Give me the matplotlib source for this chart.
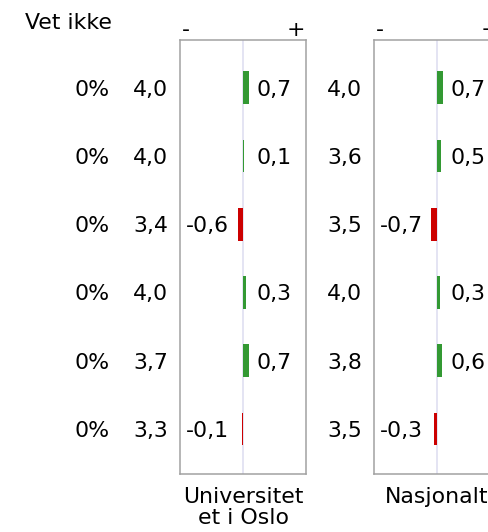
import matplotlib.pyplot as plt

plt.rcParams['font.family'] = ['DejaVu Sans']

# data
columns = ['Universitet\net i Oslo', 'Nasjonalt']
vet_ikke = ['0%', '0%', '0%', '0%', '0%', '0%']
uio_mean = [4.0, 4.0, 3.4, 4.0, 3.7, 3.3]
uio_diff = [0.7, 0.1, -0.6, 0.3, 0.7, -0.1]
nat_mean = [4.0, 3.6, 3.5, 4.0, 3.8, 3.5]
nat_diff = [0.7, 0.5, -0.7, 0.3, 0.6, -0.3]

GREEN = '#339933'
RED = '#cc0000'
W, H = 488, 532
FS = 22

def fmt(v):
    return f'{v:.1f}'.replace('.', ',')

fig = plt.figure(figsize=(W / 72, H / 72), dpi=72)

box_left = [180, 374]
box_w, box_top, box_bot = 126, 40, 474
rows = list(range(len(uio_mean)))

for k, (means, diffs) in enumerate([(uio_mean, uio_diff), (nat_mean, nat_diff)]):
    ax = fig.add_axes([box_left[k] / W, 1 - box_bot / H, box_w / W, (box_bot - box_top) / H])
    ax.set_xlim(-7.4, 7.4)
    ax.set_ylim(5.66, -0.70)
    ax.axvline(0, color='#dcdcf0', lw=1.5, zorder=0)
    colors = [GREEN if d > 0 else RED for d in diffs]
    ax.barh(rows, diffs, height=0.48, color=colors, zorder=2)
    ax.set_xticks([])
    ax.set_yticks([])
    for s in ax.spines.values():
        s.set_color('#a0a0a0')
        s.set_linewidth(1.5)

    for i, (m, d) in enumerate(zip(means, diffs)):
        # mean value left of the box
        ax.annotate(fmt(m), xy=(0, i), xycoords=('axes fraction', 'data'),
                    xytext=(-12, -8), textcoords='offset points',
                    ha='right', va='baseline', fontsize=FS, annotation_clip=False)
        if d > 0:
            ax.annotate(fmt(d), xy=(0.5, i), xycoords=('axes fraction', 'data'),
                        xytext=(13, -8), textcoords='offset points',
                        ha='left', va='baseline', fontsize=FS)
        else:
            ax.annotate(fmt(d), xy=(0, i), xycoords=('axes fraction', 'data'),
                        xytext=(6, -8), textcoords='offset points',
                        ha='left', va='baseline', fontsize=FS)

    ax.annotate('-', xy=(0, 1), xycoords='axes fraction', xytext=(6, 4),
                textcoords='offset points', ha='center', va='baseline', fontsize=FS,
                annotation_clip=False)
    ax.annotate('+', xy=(1, 1), xycoords='axes fraction', xytext=(-10, 4),
                textcoords='offset points', ha='center', va='baseline', fontsize=FS,
                annotation_clip=False)
    ax.annotate(columns[k], xy=(0.5, 0), xycoords='axes fraction', xytext=(0, -13),
                textcoords='offset points', ha='center', va='top', fontsize=FS,
                linespacing=1.08, annotation_clip=False)

    if k == 0:
        for i, v in enumerate(vet_ikke):
            ax.annotate(v, xy=(0, i), xycoords=('axes fraction', 'data'),
                        xytext=(-70, -8), textcoords='offset points',
                        ha='right', va='baseline', fontsize=FS, annotation_clip=False)

fig.text(25 / W, 1 - 29 / H, 'Vet ikke', ha='left', va='baseline', fontsize=FS)

fig.savefig('out.png', dpi=72)
